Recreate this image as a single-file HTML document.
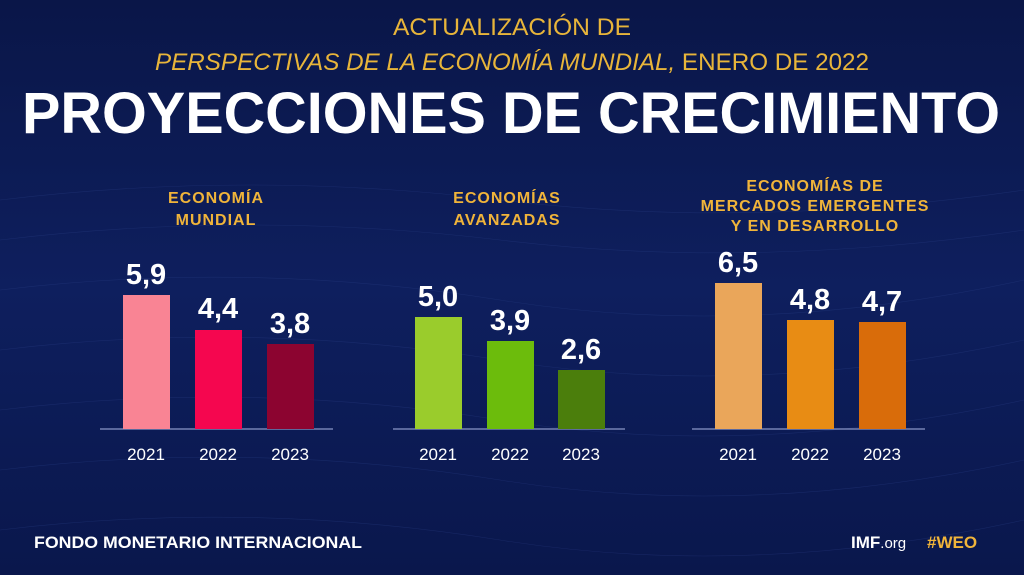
<!DOCTYPE html>
<html><head><meta charset="utf-8"><style>
html,body{margin:0;padding:0;background:#0b1850;}
svg{display:block}
</style></head><body>
<svg width="1024" height="575" viewBox="0 0 1024 575" xmlns="http://www.w3.org/2000/svg" font-family="Liberation Sans, sans-serif">
<defs>
<linearGradient id="bg" x1="0" y1="0" x2="0" y2="1">
<stop offset="0" stop-color="#0a1648"/><stop offset="0.5" stop-color="#0e1f5e"/><stop offset="1" stop-color="#0a174c"/>
</linearGradient>
</defs>
<rect width="1024" height="575" fill="url(#bg)"/>
<g stroke="#2a3f85" stroke-width="0.6" opacity="0.4" fill="none">
<path d="M0 200 Q250 170 500 200 T1024 190"/><path d="M0 240 Q250 210 500 240 T1024 230"/>
<path d="M0 290 Q250 260 500 300 T1024 280"/><path d="M0 350 Q250 320 500 360 T1024 340"/>
<path d="M0 410 Q250 380 500 420 T1024 400"/><path d="M0 470 Q250 440 500 480 T1024 460"/>
<path d="M0 530 Q250 500 500 540 T1024 520"/>
</g>
<g fill="#e8b53a" font-size="24" text-anchor="middle">
<text x="512" y="35" textLength="238" lengthAdjust="spacingAndGlyphs">ACTUALIZACIÓN DE</text>
<text x="512" y="70" textLength="714" lengthAdjust="spacingAndGlyphs"><tspan font-style="italic">PERSPECTIVAS DE LA ECONOMÍA MUNDIAL,</tspan> ENERO DE 2022</text>
</g>
<text x="22" y="133" fill="#fff" font-size="58" font-weight="bold" textLength="978" lengthAdjust="spacingAndGlyphs">PROYECCIONES DE CRECIMIENTO</text>
<g fill="#f0b43a" font-size="16" font-weight="bold" text-anchor="middle" letter-spacing="1">
<text x="216" y="203">ECONOMÍA</text><text x="216" y="225">MUNDIAL</text>
<text x="507" y="203">ECONOMÍAS</text><text x="507" y="225">AVANZADAS</text>
<text x="815" y="191">ECONOMÍAS DE</text><text x="815" y="211">MERCADOS EMERGENTES</text><text x="815" y="231">Y EN DESARROLLO</text>
</g>
<g stroke="#8a96c8" stroke-width="1.2">
<line x1="100" y1="429" x2="333" y2="429"/><line x1="393" y1="429" x2="625" y2="429"/><line x1="692" y1="429" x2="925" y2="429"/>
</g>
<rect x="123" y="295" width="47" height="134" fill="#f98494"/>
<rect x="195" y="330" width="47" height="99" fill="#f5064f"/>
<rect x="267" y="344" width="47" height="85" fill="#8c0430"/>
<rect x="415" y="317" width="47" height="112" fill="#9acc2c"/>
<rect x="487" y="341" width="47" height="88" fill="#6cbc0c"/>
<rect x="558" y="370" width="47" height="59" fill="#4b7e0c"/>
<rect x="715" y="283" width="47" height="146" fill="#eaa65a"/>
<rect x="787" y="320" width="47" height="109" fill="#e88c14"/>
<rect x="859" y="322" width="47" height="107" fill="#d96c0a"/>
<g fill="#fff" font-size="29" font-weight="bold" text-anchor="middle">
<text x="146" y="284">5,9</text><text x="218" y="318">4,4</text><text x="290" y="333">3,8</text>
<text x="438" y="306">5,0</text><text x="510" y="330">3,9</text><text x="581" y="359">2,6</text>
<text x="738" y="272">6,5</text><text x="810" y="309">4,8</text><text x="882" y="311">4,7</text>
</g>
<g fill="#fff" font-size="17" text-anchor="middle">
<text x="146" y="460">2021</text><text x="218" y="460">2022</text><text x="290" y="460">2023</text>
<text x="438" y="460">2021</text><text x="510" y="460">2022</text><text x="581" y="460">2023</text>
<text x="738" y="460">2021</text><text x="810" y="460">2022</text><text x="882" y="460">2023</text>
</g>
<text x="34" y="548" fill="#fff" font-size="17" font-weight="bold" textLength="328" lengthAdjust="spacingAndGlyphs">FONDO MONETARIO INTERNACIONAL</text>
<text x="851" y="548" fill="#fff" font-size="17" font-weight="bold">IMF<tspan font-weight="normal" font-size="15">.org</tspan></text>
<text x="927" y="548" fill="#f0b43a" font-size="17" font-weight="bold">#WEO</text>
</svg>
</body></html>
